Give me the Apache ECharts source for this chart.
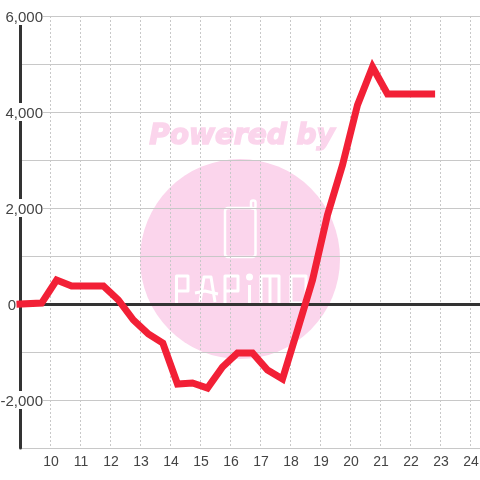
<!DOCTYPE html>
<html><head><meta charset="utf-8">
<style>html,body{margin:0;padding:0;background:#fff}#c{width:480px;height:480px}</style>
<script src="https://cdn.jsdelivr.net/npm/echarts@6/dist/echarts.min.js"></script>
</head><body><div id="c"></div>
<script>
const hours = [9,9.72,10.22,10.72,11.22,11.78,12.28,12.78,13.28,13.76,14.25,14.75,15.25,15.75,16.25,16.75,17.25,17.75,18.25,18.75,19.25,19.75,20.25,20.75,21.25,21.75,22.25,22.72];
const values = [0,20,500,375,375,375,83,-333,-625,-812,-1667,-1646,-1750,-1312,-1020,-1020,-1375,-1562,-540,500,1854,2896,4146,4937,4375,4375,4375,4375];
const xTickLabels = [10,11,12,13,14,15,16,17,18,19,20,21,22,23,24];
const yTickLabels = [-2000,0,2000,4000,6000];
const ink='#444444', grid='#c8c8c8', pink='#fbd5ec';
function stroke(points){
  return {type:'polyline',z:-9,silent:true,shape:{points},style:{fill:'none',stroke:'#fff',lineWidth:3,lineJoin:'round'}};
}
const chart = echarts.init(document.getElementById('c'),null,{renderer:'canvas'});
chart.setOption({
  animation:false,
  backgroundColor:'#fff',
  textStyle:{fontFamily:'Liberation Sans'},
  grid:{left:20,right:0,top:16,bottom:32,outerBoundsMode:'none'},
  graphic:{elements:[
    {type:'circle',z:-10,silent:true,shape:{cx:240,cy:259,r:100},style:{fill:pink}},
    {type:'text',z:-10,silent:true,x:242,y:137,style:{text:'Powered by',fill:pink,stroke:pink,lineWidth:1.5,font:'italic bold 28px "DejaVu Sans"',align:'center',verticalAlign:'middle'}},
    {type:'rect',z:-9,silent:true,shape:{x:225,y:208,width:30.5,height:49,r:3},style:{fill:'none',stroke:'#fff',lineWidth:2.5}},
    {type:'rect',z:-9,silent:true,shape:{x:251,y:200.5,width:4.5,height:8,r:2},style:{fill:'none',stroke:'#fff',lineWidth:2.5}},
    stroke([[176.5,303],[176.5,276],[188,276],[188,291],[176.5,291]]),
    stroke([[200,302],[204,277],[211,277],[215,302]]),
    stroke([[195,293],[205,291],[218,294]]),
    stroke([[225,303],[225,276],[238,276],[238,291],[225,291]]),
    stroke([[249.5,285],[249.5,303]]),
    {type:'circle',z:-9,silent:true,shape:{cx:249.5,cy:277,r:3.5},style:{fill:'#fff'}},
    stroke([[261,303],[261,276],[279,276],[279,303]]),
    stroke([[270,276],[270,303]]),
    stroke([[291,303],[291,276],[306,276],[306,303],[291,303]])
  ]},
  xAxis:{type:'value',min:9,max:9+460/30,interval:1,position:'bottom',
    axisLine:{show:false,onZero:false},axisTick:{show:false},
    axisLabel:{color:ink,fontSize:14,margin:6,showMinLabel:false,showMaxLabel:false,padding:[1,0,0,2],
      formatter:v=>xTickLabels.includes(v)?String(v):''},
    splitLine:{show:true,lineStyle:{color:grid,type:[2,2],width:1}}},
  yAxis:{type:'value',min:-3000,max:6000,interval:1000,
    axisLine:{show:true,onZero:false,lineStyle:{color:'#333',width:3}},axisTick:{show:false},
    axisLabel:{inside:true,align:'right',margin:23,color:ink,fontSize:15,
      rich:{
        n:{color:ink,fontSize:15,backgroundColor:'#fff',padding:[3,0,0,0]},
        z:{color:ink,fontSize:15,padding:[3,27,0,0]}
      },
      formatter:v=>!yTickLabels.includes(v)?'':(v===0?'{z|0}':'{n|'+v.toLocaleString('en-US')+'}')},
    splitLine:{show:true,lineStyle:{color:grid,width:1}}},
  series:[{type:'line',data:hours.map((h,i)=>[h,values[i]]),showSymbol:false,symbol:'none',
    lineStyle:{color:'#f22036',width:7,join:'miter',cap:'square'},z:5,clip:false,
    markLine:{silent:true,z:3,symbol:'none',label:{show:false},animation:false,
      lineStyle:{color:'#333',width:3,type:'solid'},data:[{yAxis:0}]}}]
});
</script></body></html>
